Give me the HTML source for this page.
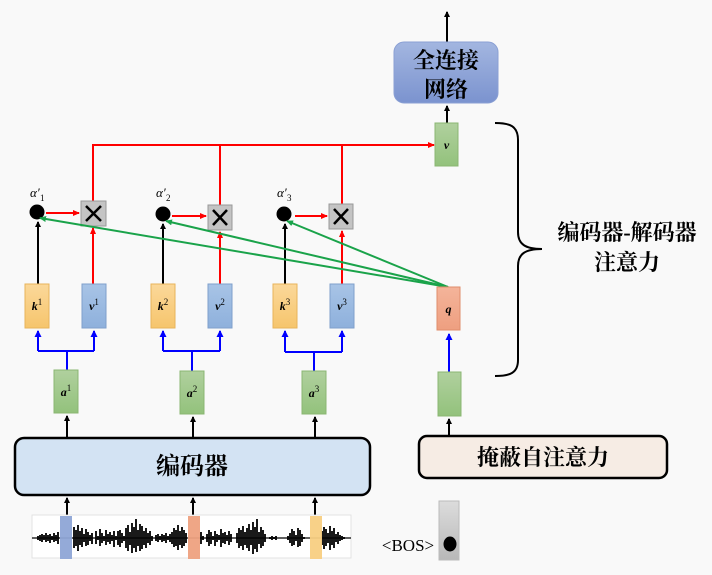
<!DOCTYPE html>
<html><head><meta charset="utf-8"><style>
body{margin:0;background:#f9f9f9;}
svg{display:block}
.cj{font-family:"Liberation Serif","Noto Serif CJK SC",serif;font-weight:bold;}
.m{font-family:"Liberation Serif",serif;font-style:italic;font-weight:bold;font-size:12px}
</style></head><body>
<svg width="712" height="575" viewBox="0 0 712 575" xmlns="http://www.w3.org/2000/svg">
<defs>
<marker id="ak" markerWidth="6" markerHeight="6" refX="5" refY="3" orient="auto" markerUnits="userSpaceOnUse"><path d="M0,0 L6,3 L0,6z" fill="#000"/></marker>
<marker id="ar" markerWidth="7" markerHeight="6" refX="6" refY="3" orient="auto" markerUnits="userSpaceOnUse"><path d="M0,0 L7,3 L0,6z" fill="#f00"/></marker>
<marker id="ab" markerWidth="7" markerHeight="7" refX="6" refY="3.5" orient="auto" markerUnits="userSpaceOnUse"><path d="M0,0 L7,3.5 L0,7z" fill="#00f"/></marker>
<marker id="ag" markerWidth="7" markerHeight="6" refX="6" refY="3" orient="auto" markerUnits="userSpaceOnUse"><path d="M0,0 L7,3 L0,6z" fill="#1aa34a"/></marker>
<linearGradient id="gg" x1="0" y1="0" x2="0" y2="1"><stop offset="0" stop-color="#b0d09e"/><stop offset="1" stop-color="#93c27c"/></linearGradient>
<linearGradient id="gy" x1="0" y1="0" x2="0" y2="1"><stop offset="0" stop-color="#fbd89a"/><stop offset="1" stop-color="#f6c56c"/></linearGradient>
<linearGradient id="gb" x1="0" y1="0" x2="0" y2="1"><stop offset="0" stop-color="#a8c4e6"/><stop offset="1" stop-color="#8eb0dc"/></linearGradient>
<linearGradient id="gf" x1="0" y1="0" x2="0" y2="1"><stop offset="0" stop-color="#a3b6e0"/><stop offset="1" stop-color="#7b93cf"/></linearGradient>
<linearGradient id="gq" x1="0" y1="0" x2="0" y2="1"><stop offset="0" stop-color="#f4b49a"/><stop offset="1" stop-color="#ee9f80"/></linearGradient>
<linearGradient id="gs" x1="0" y1="0" x2="0" y2="1"><stop offset="0" stop-color="#dcdcdc"/><stop offset="1" stop-color="#b8b8b8"/></linearGradient>
</defs>

<line x1="447" y1="42" x2="447" y2="12" stroke="#000" stroke-width="2" marker-end="url(#ak)"/>
<rect x="394" y="42" width="104" height="61" rx="10" fill="url(#gf)" stroke="#8aa0d4"/>
<text x="446" y="68" text-anchor="middle" class="cj" font-size="22">全连接</text>
<text x="446" y="97" text-anchor="middle" class="cj" font-size="22">网络</text>
<line x1="447" y1="123" x2="447" y2="106" stroke="#000" stroke-width="2" marker-end="url(#ak)"/>
<rect x="435" y="123" width="23" height="43" fill="url(#gg)" stroke="#8ab672"/>
<text x="446.5" y="149" text-anchor="middle" class="m">v</text>

<path d="M93,201 V145 H432 M220,145 V205 M342,145 V204" fill="none" stroke="#f00" stroke-width="2"/>
<line x1="400" y1="145" x2="434" y2="145" stroke="#f00" stroke-width="2" marker-end="url(#ar)"/>

<path d="M495,123 C510,123 518,126 518,140 L518,232 C518,244 525,249 542,249 C525,249 518,254 518,266 L518,360 C518,373 510,376 495,376" fill="none" stroke="#000" stroke-width="2"/>
<text x="627" y="240" text-anchor="middle" class="cj" font-size="22">编码器-解码器</text>
<text x="627" y="270" text-anchor="middle" class="cj" font-size="22">注意力</text>

<g>
<circle cx="37" cy="212" r="7.5" fill="#000"/>
<text x="30" y="197" font-family="Liberation Serif,serif" font-style="italic" font-size="13">α′</text><text x="40" y="201" font-family="Liberation Serif,serif" font-size="9">1</text>
<line x1="46" y1="213" x2="79" y2="213" stroke="#f00" stroke-width="2" marker-end="url(#ar)"/>
<rect x="81" y="201" width="25" height="25" fill="#c4c4c4" stroke="#999"/>
<path d="M86,206 L101,221 M101,206 L86,221" stroke="#000" stroke-width="2.5"/>
<line x1="38" y1="284" x2="38" y2="222" stroke="#000" stroke-width="2" marker-end="url(#ak)"/>
<line x1="93" y1="284" x2="93" y2="228" stroke="#f00" stroke-width="2" marker-end="url(#ar)"/>
<rect x="25" y="284" width="24" height="44" fill="url(#gy)" stroke="#e8b45a"/>
<text x="37" y="310" text-anchor="middle" class="m">k<tspan font-size="9" font-style="normal" font-weight="normal" dy="-5">1</tspan></text>
<rect x="82" y="284" width="24" height="44" fill="url(#gb)" stroke="#7fa0cc"/>
<text x="94" y="310" text-anchor="middle" class="m">v<tspan font-size="9" font-style="normal" font-weight="normal" dy="-5">1</tspan></text>
<path d="M67,370 V351 M38,351 H94" fill="none" stroke="#00f" stroke-width="2"/>
<line x1="38" y1="351" x2="38" y2="331" stroke="#00f" stroke-width="2" marker-end="url(#ab)"/>
<line x1="94" y1="351" x2="94" y2="331" stroke="#00f" stroke-width="2" marker-end="url(#ab)"/>
<rect x="54" y="370" width="24" height="43" fill="url(#gg)" stroke="#8ab672"/>
<text x="66" y="396" text-anchor="middle" class="m">a<tspan font-size="9" font-style="normal" font-weight="normal" dy="-5">1</tspan></text>
</g>
<g>
<circle cx="163" cy="214" r="7.5" fill="#000"/>
<text x="156" y="197" font-family="Liberation Serif,serif" font-style="italic" font-size="13">α′</text><text x="166" y="201" font-family="Liberation Serif,serif" font-size="9">2</text>
<line x1="172" y1="216" x2="206" y2="216" stroke="#f00" stroke-width="2" marker-end="url(#ar)"/>
<rect x="208" y="205" width="24" height="25" fill="#c4c4c4" stroke="#999"/>
<path d="M213,210 L227,225 M227,210 L213,225" stroke="#000" stroke-width="2.5"/>
<line x1="163" y1="284" x2="163" y2="224" stroke="#000" stroke-width="2" marker-end="url(#ak)"/>
<line x1="220" y1="284" x2="220" y2="232" stroke="#f00" stroke-width="2" marker-end="url(#ar)"/>
<rect x="151" y="284" width="24" height="44" fill="url(#gy)" stroke="#e8b45a"/>
<text x="163" y="310" text-anchor="middle" class="m">k<tspan font-size="9" font-style="normal" font-weight="normal" dy="-5">2</tspan></text>
<rect x="208" y="284" width="24" height="44" fill="url(#gb)" stroke="#7fa0cc"/>
<text x="220" y="310" text-anchor="middle" class="m">v<tspan font-size="9" font-style="normal" font-weight="normal" dy="-5">2</tspan></text>
<path d="M192,371 V351 M163,351 H220" fill="none" stroke="#00f" stroke-width="2"/>
<line x1="163" y1="351" x2="163" y2="331" stroke="#00f" stroke-width="2" marker-end="url(#ab)"/>
<line x1="220" y1="351" x2="220" y2="331" stroke="#00f" stroke-width="2" marker-end="url(#ab)"/>
<rect x="180" y="371" width="24" height="43" fill="url(#gg)" stroke="#8ab672"/>
<text x="192" y="397" text-anchor="middle" class="m">a<tspan font-size="9" font-style="normal" font-weight="normal" dy="-5">2</tspan></text>
</g>
<g>
<circle cx="284" cy="214" r="7.5" fill="#000"/>
<text x="277" y="197" font-family="Liberation Serif,serif" font-style="italic" font-size="13">α′</text><text x="287" y="201" font-family="Liberation Serif,serif" font-size="9">3</text>
<line x1="295" y1="216" x2="327" y2="216" stroke="#f00" stroke-width="2" marker-end="url(#ar)"/>
<rect x="329" y="204" width="24" height="25" fill="#c4c4c4" stroke="#999"/>
<path d="M334,209 L348,224 M348,209 L334,224" stroke="#000" stroke-width="2.5"/>
<line x1="285" y1="284" x2="285" y2="224" stroke="#000" stroke-width="2" marker-end="url(#ak)"/>
<line x1="342" y1="284" x2="342" y2="231" stroke="#f00" stroke-width="2" marker-end="url(#ar)"/>
<rect x="273" y="284" width="24" height="44" fill="url(#gy)" stroke="#e8b45a"/>
<text x="285" y="310" text-anchor="middle" class="m">k<tspan font-size="9" font-style="normal" font-weight="normal" dy="-5">3</tspan></text>
<rect x="330" y="284" width="24" height="44" fill="url(#gb)" stroke="#7fa0cc"/>
<text x="342" y="310" text-anchor="middle" class="m">v<tspan font-size="9" font-style="normal" font-weight="normal" dy="-5">3</tspan></text>
<path d="M314,371 V352 M285,352 H342" fill="none" stroke="#00f" stroke-width="2"/>
<line x1="285" y1="352" x2="285" y2="331" stroke="#00f" stroke-width="2" marker-end="url(#ab)"/>
<line x1="342" y1="352" x2="342" y2="331" stroke="#00f" stroke-width="2" marker-end="url(#ab)"/>
<rect x="302" y="371" width="24" height="43" fill="url(#gg)" stroke="#8ab672"/>
<text x="314" y="397" text-anchor="middle" class="m">a<tspan font-size="9" font-style="normal" font-weight="normal" dy="-5">3</tspan></text>
</g>

<line x1="448" y1="287" x2="40" y2="218" stroke="#1aa34a" stroke-width="2" marker-end="url(#ag)"/>
<line x1="448" y1="287" x2="166" y2="221" stroke="#1aa34a" stroke-width="2" marker-end="url(#ag)"/>
<line x1="448" y1="287" x2="287" y2="221" stroke="#1aa34a" stroke-width="2" marker-end="url(#ag)"/>

<rect x="437" y="287" width="23" height="43" fill="url(#gq)" stroke="#e08d6c"/>
<text x="448.5" y="313" text-anchor="middle" class="m">q</text>
<line x1="449" y1="372" x2="449" y2="334" stroke="#00f" stroke-width="2" marker-end="url(#ab)"/>
<rect x="438" y="372" width="23" height="44" fill="url(#gg)" stroke="#8ab672"/>
<line x1="449" y1="435" x2="449" y2="419" stroke="#000" stroke-width="2" marker-end="url(#ak)"/>

<line x1="67" y1="437" x2="67" y2="416" stroke="#000" stroke-width="2" marker-end="url(#ak)"/>
<line x1="193" y1="437" x2="193" y2="417" stroke="#000" stroke-width="2" marker-end="url(#ak)"/>
<line x1="315" y1="437" x2="315" y2="417" stroke="#000" stroke-width="2" marker-end="url(#ak)"/>
<rect x="15" y="438" width="355" height="57" rx="9" fill="#d3e3f3" stroke="#000" stroke-width="2.5"/>
<text x="192" y="474" text-anchor="middle" class="cj" font-size="24">编码器</text>
<line x1="67" y1="515" x2="67" y2="498" stroke="#000" stroke-width="2" marker-end="url(#ak)"/>
<line x1="193" y1="515" x2="193" y2="498" stroke="#000" stroke-width="2" marker-end="url(#ak)"/>
<line x1="315" y1="515" x2="315" y2="498" stroke="#000" stroke-width="2" marker-end="url(#ak)"/>

<rect x="419" y="436" width="248" height="42" rx="8" fill="#f6ece4" stroke="#000" stroke-width="2.5"/>
<text x="543" y="465" text-anchor="middle" class="cj" font-size="22">掩蔽自注意力</text>

<rect x="32" y="515" width="319" height="43" fill="#fff" stroke="#ddd" stroke-width="0.8"/>
<line x1="32" y1="538" x2="351" y2="538" stroke="#000" stroke-width="1.2"/>
<path stroke="#000" stroke-width="1.8" fill="none" d="
M38,536V540M40,535V541M42,534V542M44,535V540M46,533V542M48,535V541M50,534V543M52,536V540M54,533V542M56,535V541M58,532V544
M74,527V548M76,530V546M78,525V551M80,531V545M82,528V547M84,534V542M86,529V546M88,532V545M90,535V541M92,533V544
M96,531V544M98,536V540M100,529V546M102,533V543M104,536V541M106,530V545M108,534V542M110,532V544M112,535V541M114,531V547M116,536V540
M118,531V545M120,530V547M122,533V543M124,536V541M126,528V548M128,525V551M130,532V545M132,523V553M134,527V548M136,519V552M138,530V546M140,524V551M142,526V549M144,531V545M146,528V548M148,533V543M150,531V545M152,536V541
M156,535V541M158,534V542M160,536V540M162,534V542M164,535V541M166,533V543M168,536V540M170,534V542M172,532V544M174,528V547M176,530V546M178,525V550M180,531V545M182,527V548M184,530V546M186,533V543
M201,532V544M203,536V540
M207,534V542M209,530V546M211,532V544M213,536V540M215,531V546M217,534V542M219,535V540M221,529V547M223,533V543M225,532V544M227,535V541M229,531V545M231,534V542
M237,533V543M239,528V548M241,530V546M243,526V550M245,532V545M247,528V548M249,524V551M251,530V545M253,522V554M255,527V549M257,519V552M259,532V544M261,527V548M263,530V546M265,534V542
M270,537V539M272,536V540M274,537V539M276,536V540
M288,536V540M290,533V543M292,529V546M294,531V545M296,535V541M298,528V547M300,530V546M302,534V542M304,537V539
M322,531V545M324,527V549M326,529V546M328,533V543M330,526V550M332,531V545M334,528V548M336,534V542M338,532V544M340,535V541M342,536V540M344,537V539"/>
<rect x="60" y="516" width="12" height="43" fill="#8ea5d6" opacity="0.95"/>
<rect x="188" y="516" width="12" height="43" fill="#eea17f" opacity="0.95"/>
<rect x="310" y="516" width="12" height="43" fill="#f8cf82" opacity="0.95"/>

<rect x="439" y="501" width="20" height="59" fill="url(#gs)" stroke="#bbb"/>
<ellipse cx="450" cy="544" rx="6.5" ry="7.5" fill="#000"/>
<text x="408" y="551" text-anchor="middle" font-family="Liberation Serif,serif" font-size="17">&lt;BOS&gt;</text>
</svg>
</body></html>
